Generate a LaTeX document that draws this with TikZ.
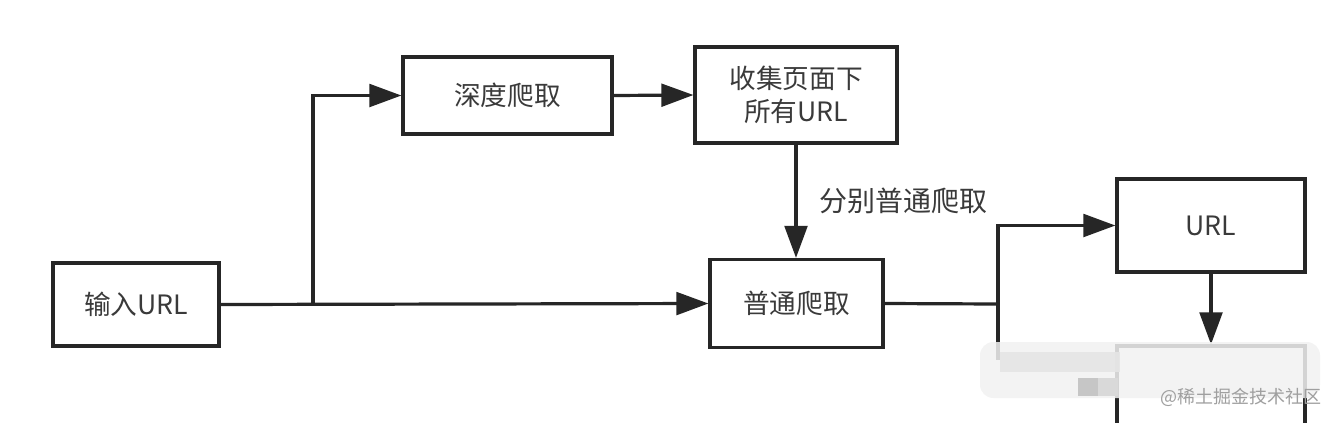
\documentclass[tikz,border=0pt]{standalone}
\usepackage{fontspec}
\setmainfont{Noto Sans CJK SC}
\usetikzlibrary{arrows.meta}
\definecolor{ln}{HTML}{262626}
\definecolor{tx}{HTML}{3A3A3A}
\tikzset{
  box/.style={draw=ln, line width=2.4pt, fill=white, inner sep=0pt, align=center,
    text=tx, font=\fontsize{20pt}{25pt}\selectfont},
  arr/.style={draw=ln, line width=2.4pt, -{Triangle[length=24pt,width=17pt]}},
  seg/.style={draw=ln, line width=2.4pt},
}
\begin{document}
\begin{tikzpicture}[x=0.75pt,y=-0.75pt]
\useasboundingbox (0,0) rectangle (1338,422);
\clip (0,0) rectangle (1338,422);
\fill[white] (0,0) rectangle (1338,422);
\node[box, minimum width=166*0.75pt, minimum height=83*0.75pt] (in) at (136,304.5) {输入URL};
\node[box, minimum width=209*0.75pt, minimum height=77*0.75pt] (deep) at (507.5,95.5) {深度爬取};
\node[box, minimum width=202*0.75pt, minimum height=96*0.75pt] (collect) at (796,95) {收集页面下\\所有URL};
\node[box, minimum width=173*0.75pt, minimum height=88*0.75pt] (normal) at (796.5,303.5) {普通爬取};
\node[box, minimum width=188*0.75pt, minimum height=93*0.75pt] (url) at (1211,225.5) {URL};
\node[box, minimum width=188*0.75pt, minimum height=140*0.75pt] (last) at (1211,416) {};
\coordinate (b1) at (313,304);
\coordinate (b2) at (998,304);
\coordinate (b3) at (998,360);
\draw[arr] (in.east) -- (normal.west);
\draw[arr] (b1) |- (deep.west);
\draw[arr] (deep.east) -- (collect.west);
\draw[arr] (collect.south) -- node[right=13pt, text=tx, font=\fontsize{21pt}{25pt}\selectfont] (lab) {分别普通爬取} (collect.south |- normal.north);
\draw[seg] (normal.east) -- (b2);
\draw[arr] (b3) |- (url.west);
\draw[arr] (url.south) -- (last.north);
% mosaic blur
\fill[gray!10, opacity=0.85, rounded corners=10pt] (980,342) rectangle (1320,398);
\fill[gray!20, opacity=0.9] (1000,352) rectangle (1120,372);
\fill[gray!45] (1078,378) rectangle (1098,396);
\fill[gray!30] (1098,378) rectangle (1118,396);
\node[text=gray!75, font=\fontsize{13.5pt}{16pt}\selectfont, inner sep=0pt] (wm) at (1241,397) {@稀土掘金技术社区};
\end{tikzpicture}
\end{document}
